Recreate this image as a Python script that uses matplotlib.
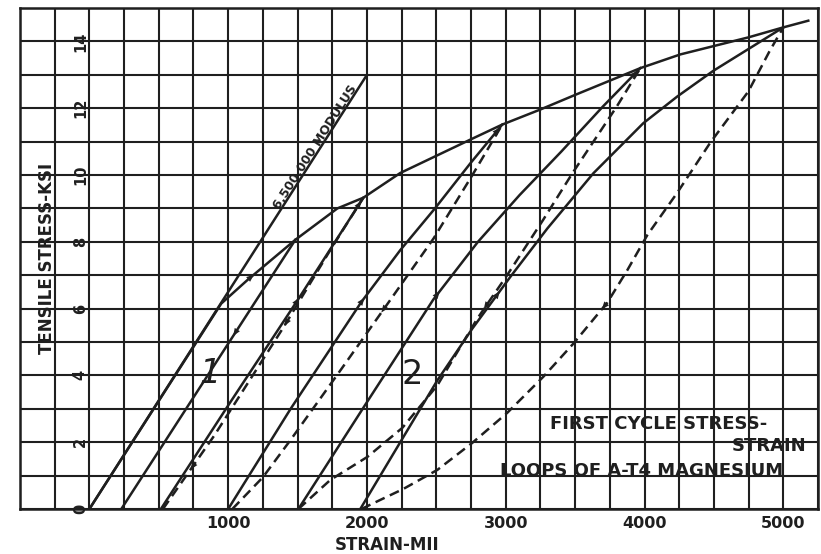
import numpy as np
import matplotlib
matplotlib.use("Agg")
import matplotlib.pyplot as plt
from matplotlib.ticker import FixedLocator, FixedFormatter

# ---------------- data (strain in micro-in/in, stress in ksi) ----------------
envelope_strain = [0, 950, 1140, 1484, 1787, 1974, 2240, 2745, 2975, 3249, 3501, 3970, 4258, 4748, 5000, 5180]
envelope_stress = [0, 6.15, 6.86, 8.06, 9.0, 9.32, 10.06, 11.06, 11.51, 11.96, 12.4, 13.2, 13.61, 14.12, 14.42, 14.62]

modulus_strain = [0, 2000]
modulus_stress = [0, 13.0]

# solid branches (from zero-stress point up to peak)
s1_strain = [230, 1484]
s1_stress = [0, 8.06]
s2_strain = [515, 1000, 1500, 1974]
s2_stress = [0, 3.1, 6.25, 9.32]
s3_strain = [1000, 1450, 1960, 2240, 2490, 2745, 2975]
s3_stress = [0, 3.0, 6.2, 7.75, 9.0, 10.35, 11.51]
s4_strain = [1506, 2000, 2478, 2800, 3100, 3400, 3700, 3970]
s4_stress = [0, 3.2, 6.27, 8.0, 9.4, 10.7, 12.05, 13.2]
s5_strain = [1952, 2240, 2507, 2759, 3033, 3300, 3631, 3991, 4236, 4496, 5000]
s5_stress = [0, 2.0, 3.85, 5.4, 6.95, 8.4, 10.05, 11.55, 12.35, 13.12, 14.42]

# dashed branches
d2_strain = [530, 900, 1400, 1750, 1974]
d2_stress = [0, 2.2, 5.45, 7.85, 9.32]
d3_strain = [1030, 1250, 1450, 1800, 2170, 2480, 2760, 2975]
d3_stress = [0, 0.95, 2.07, 4.1, 6.27, 8.1, 10.0, 11.51]
d4_strain = [1506, 1736, 2003, 2255, 2507, 2795, 3010, 3270, 3480, 3800, 3970]
d4_stress = [0, 0.87, 1.56, 2.43, 3.7, 5.7, 7.0, 8.66, 10.05, 12.05, 13.2]
d5_strain = [1960, 2100, 2262, 2507, 2759, 3011, 3271, 3487, 3732, 3876, 4020, 4236, 4474, 4748, 4900, 5000]
d5_stress = [0, 0.28, 0.6, 1.17, 1.98, 2.88, 3.96, 4.95, 6.18, 7.15, 8.2, 9.47, 10.97, 12.5, 13.7, 14.42]

x_tick_values = [1000, 2000, 3000, 4000, 5000]
x_tick_labels = ["1000", "2000", "3000", "4000", "5000"]
y_tick_values = [0, 2, 4, 6, 8, 10, 12, 14]
y_tick_labels = ["0", "2", "4", "6", "8", "10", "12", "14"]

# ---------------- figure ----------------
INK = "#1f1f1f"
BOLD = dict(family="DejaVu Sans", weight="bold", color=INK)

fig = plt.figure(figsize=(8.21, 5.54), dpi=100)
fig.patch.set_facecolor("white")
ax = fig.add_axes([20 / 821, 1 - 509 / 554, 798 / 821, 501 / 554])
ax.set_xlim(-500, 5250)
ax.set_ylim(0, 15)

# grid every 250 strain, 1 ksi
grid_x = np.arange(-500, 5251, 250)
grid_y = np.arange(0, 16, 1)
ax.xaxis.set_major_locator(FixedLocator(grid_x))
ax.yaxis.set_major_locator(FixedLocator(grid_y))
xl = [x_tick_labels[x_tick_values.index(v)] if v in x_tick_values else "" for v in grid_x]
ax.xaxis.set_major_formatter(FixedFormatter(xl))
ax.tick_params(axis="both", length=0)
ax.tick_params(axis="x", pad=5, labelsize=11.5, labelcolor=INK)
ax.tick_params(axis="y", labelleft=False)
for lab in ax.get_xticklabels():
    lab.set_fontweight("bold")
ax.grid(True, color=INK, lw=1.5)
for sp in ax.spines.values():
    sp.set_color(INK)
    sp.set_linewidth(1.8)
ax.set_axisbelow(True)

# y tick labels drawn inside the frame (rotated, like the original)
for v, t in zip(y_tick_values, y_tick_labels):
    ax.text(-65, v, t, rotation=90, ha="center", va="center", fontsize=10.5, **BOLD)

lw = 1.8
dash = (4.0, 2.3)
ax.plot(envelope_strain, envelope_stress, color=INK, lw=lw)
ax.plot(modulus_strain, modulus_stress, color=INK, lw=lw)
solids = [(s1_strain, s1_stress), (s2_strain, s2_stress), (s3_strain, s3_stress),
          (s4_strain, s4_stress), (s5_strain, s5_stress)]
dashed = [(d2_strain, d2_stress), (d3_strain, d3_stress), (d4_strain, d4_stress),
          (d5_strain, d5_stress)]
for xs, ys in solids:
    ax.plot(xs, ys, color=INK, lw=lw)
for xs, ys in dashed:
    ax.plot(xs, ys, color=INK, lw=lw, dashes=dash)


def arrow_on(xs, ys, s, up=True):
    """small arrowhead sitting on a curve at stress level s"""
    ds = 0.12 if up else -0.12
    x0 = np.interp(s, ys, xs)
    x1 = np.interp(s + ds, ys, xs)
    ax.annotate("", xy=(x1, s + ds), xytext=(x0, s),
                arrowprops=dict(arrowstyle="-|>,head_length=0.55,head_width=0.22",
                                color=INK, lw=0, shrinkA=0, shrinkB=0))


# direction marks (stress levels where the reference shows arrowheads)
arrow_on(envelope_strain, envelope_stress, 6.9)
arrow_on(s1_strain, s1_stress, 5.3, up=False)
arrow_on(s2_strain, s2_stress, 6.2)
arrow_on(d2_strain, d2_stress, 5.6, up=False)
arrow_on(d2_strain, d2_stress, 1.3, up=False)
arrow_on(s2_strain, s2_stress, 9.1)
arrow_on(s3_strain, s3_stress, 6.2)
arrow_on(d3_strain, d3_stress, 6.0, up=False)
arrow_on(s3_strain, s3_stress, 11.3)
arrow_on(s4_strain, s4_stress, 6.4)
arrow_on(d4_strain, d4_stress, 6.1, up=False)
arrow_on(s4_strain, s4_stress, 13.0)
arrow_on(s5_strain, s5_stress, 6.4)
arrow_on(d5_strain, d5_stress, 6.1, up=False)

# labels
ax.set_ylabel("TENSILE STRESS-KSI", fontsize=12, ha="center", va="center", **BOLD)
ax.yaxis.set_label_coords(27 / 798, 0.5)
ax.set_xlabel("STRAIN-MII", fontsize=12, va="center", **BOLD)
ax.xaxis.set_label_coords((387 - 20) / 798, -36 / 501)

ax.text(1665, 10.72, "6,500,000 MODULUS", rotation=57.4, rotation_mode="anchor",
        ha="center", va="bottom", fontsize=9, **BOLD)

ax.text(872, 4.05, "1", fontsize=24, ha="center", va="center", color=INK, style="italic")
ax.text(2327, 4.02, "2", fontsize=24, ha="center", va="center", color=INK)

ax.text(3321, 2.55, "FIRST CYCLE STRESS-", fontsize=13, ha="left", va="center", **BOLD)
ax.text(5166, 1.89, "STRAIN", fontsize=13, ha="right", va="center", **BOLD)
ax.text(2960, 1.14, "LOOPS OF A-T4 MAGNESIUM", fontsize=13, ha="left", va="center", **BOLD)

fig.savefig("out.png", dpi=100, facecolor="white")
